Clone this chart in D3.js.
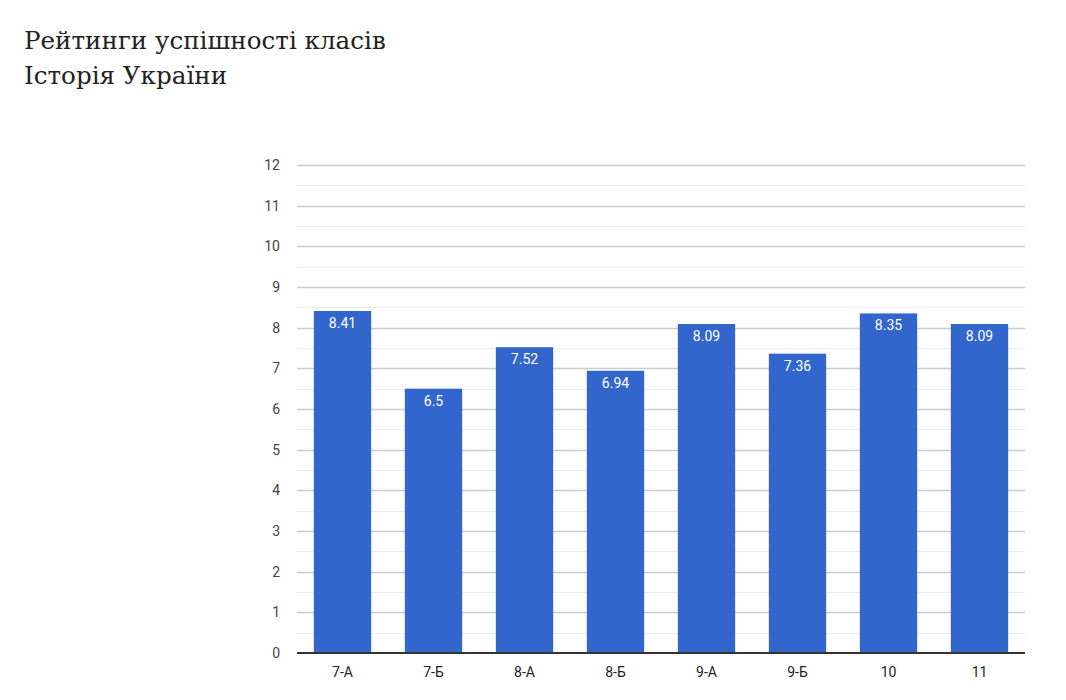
<!DOCTYPE html>
<html><head><meta charset="utf-8">
<script src="https://cdn.jsdelivr.net/npm/d3@7"></script>
<style>body{margin:0;background:#fff;} svg{display:block;}</style>
</head><body>
<svg id="c" width="1066" height="700"></svg>
<script>
const categories = ["7-А","7-Б","8-А","8-Б","9-А","9-Б","10","11"];
const values = [8.41, 6.5, 7.52, 6.94, 8.09, 7.36, 8.35, 8.09];
const yTicks = [0,1,2,3,4,5,6,7,8,9,10,11,12];
const titleLines = ["Рейтинги успішності класів","Історія України"];

const svg = d3.select("#c");
const L = 297, R = 1025, T = 165, B = 653;
const x = d3.scaleBand().domain(categories).range([L, R]).paddingInner(0.37).paddingOuter(0.185);
const y = d3.scaleLinear().domain([0, 12]).range([B, T]);

svg.selectAll("text.title").data(titleLines).enter().append("text")
  .attr("x", 24).attr("y", (d,i) => 49 + i*35)
  .attr("font-family", "DejaVu Serif").attr("font-size", 24.6).attr("fill", "#222")
  .text(d => d);

const minor = d3.range(0.5, 12, 1);
svg.append("g").selectAll("line").data(minor).enter().append("line")
  .attr("x1", L).attr("x2", R).attr("y1", d => Math.round(y(d))+0.5).attr("y2", d => Math.round(y(d))+0.5)
  .attr("stroke", "#ebebeb").attr("stroke-width", 1);
svg.append("g").selectAll("line").data(yTicks.slice(1)).enter().append("line")
  .attr("x1", L).attr("x2", R).attr("y1", d => Math.round(y(d))+0.5).attr("y2", d => Math.round(y(d))+0.5)
  .attr("stroke", "#cccccc").attr("stroke-width", 1.5);

svg.append("g").selectAll("text").data(yTicks).enter().append("text")
  .attr("x", 280).attr("y", d => y(d) + 5).attr("text-anchor", "end")
  .attr("font-family", "Roboto").attr("font-size", 14).attr("fill", "#444")
  .text(d => d);

svg.append("g").selectAll("rect").data(values).enter().append("rect")
  .attr("x", (d,i) => x(categories[i])).attr("width", x.bandwidth())
  .attr("y", d => y(d)).attr("height", d => B - y(d))
  .attr("fill", "#3366cc");

svg.append("g").selectAll("text").data(values).enter().append("text")
  .attr("x", (d,i) => x(categories[i]) + x.bandwidth()/2).attr("y", d => y(d) + 17)
  .attr("text-anchor", "middle").attr("font-family", "Roboto").attr("font-size", 14).attr("fill", "#fff")
  .text(d => d);

svg.append("line").attr("x1", L).attr("x2", R).attr("y1", B).attr("y2", B)
  .attr("stroke", "#333").attr("stroke-width", 2);

svg.append("g").selectAll("text").data(categories).enter().append("text")
  .attr("x", d => x(d) + x.bandwidth()/2).attr("y", 677).attr("text-anchor", "middle")
  .attr("font-family", "Roboto").attr("font-size", 14).attr("fill", "#222")
  .text(d => d);
</script>
</body></html>
